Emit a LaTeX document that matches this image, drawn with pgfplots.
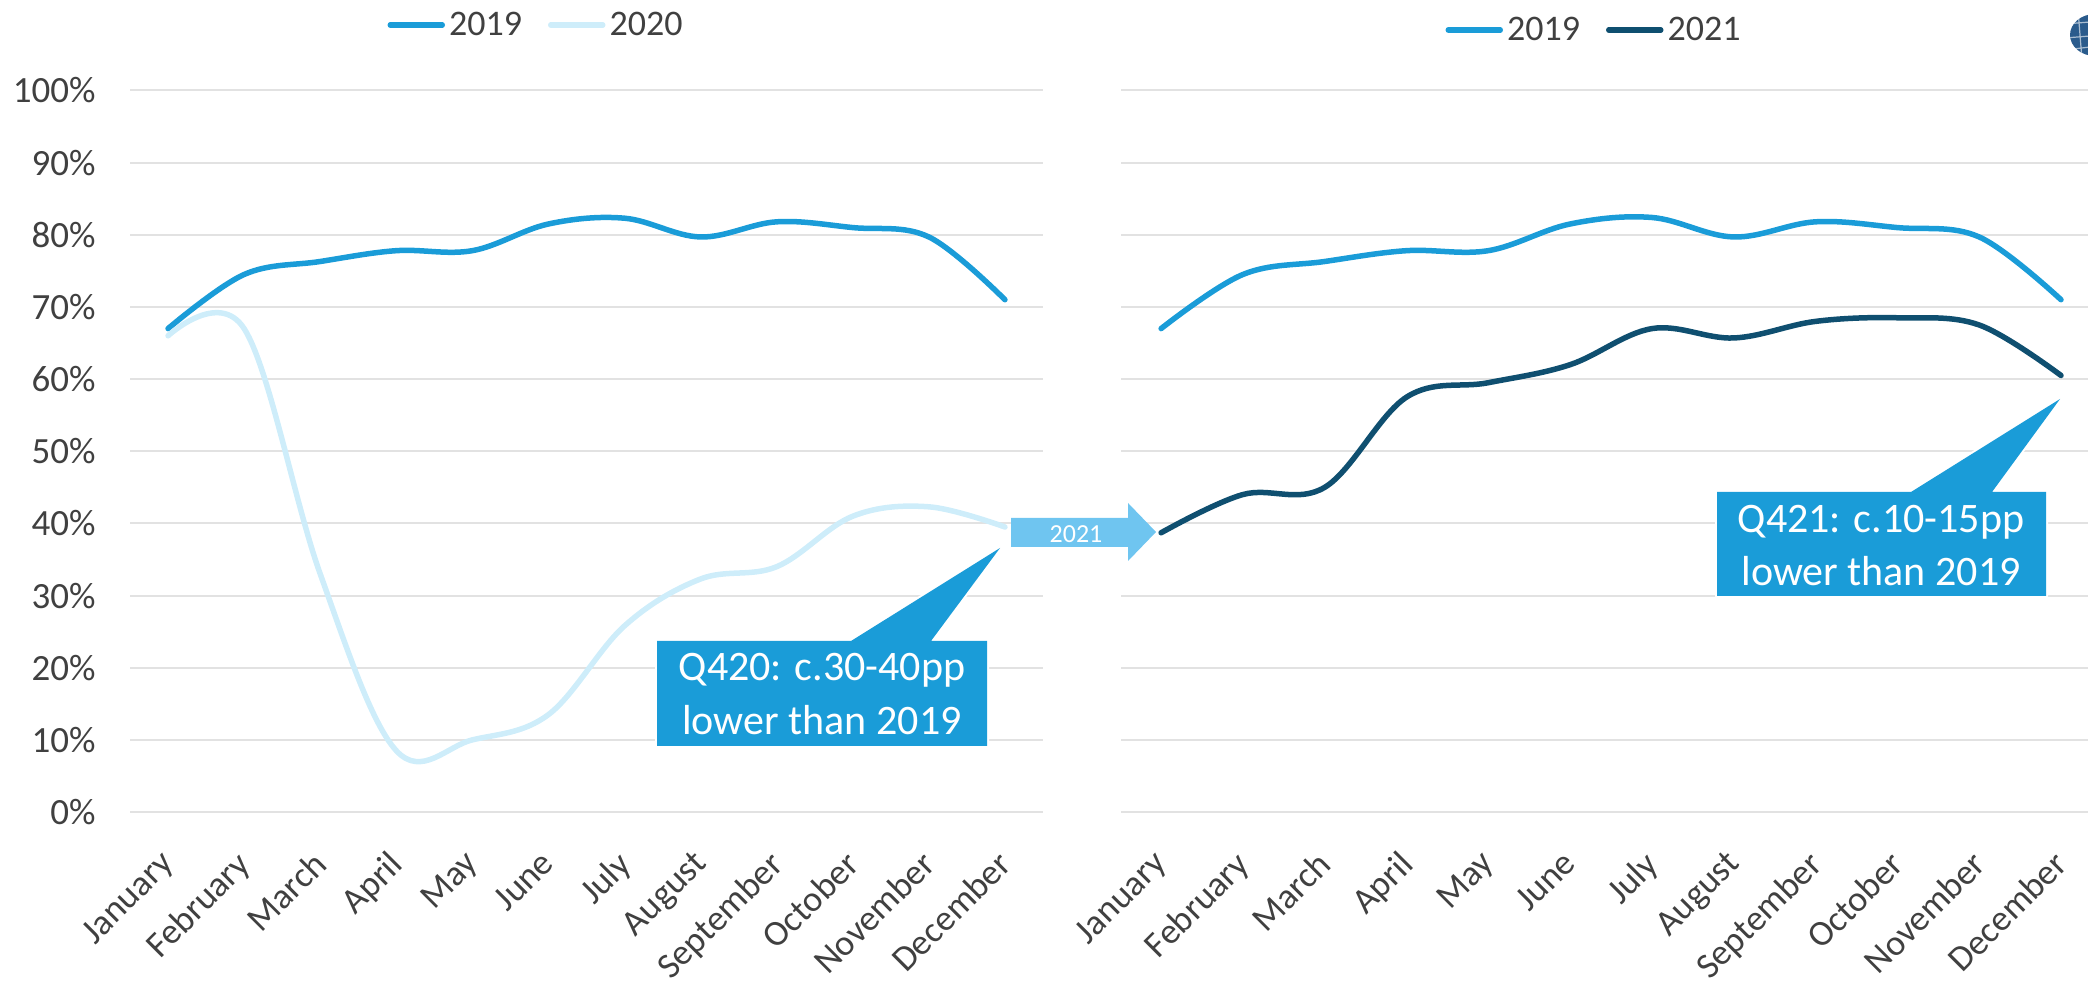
\documentclass[border=0pt]{standalone}
\usepackage{pgfplots}
\pgfplotsset{compat=1.18}
\usepackage{fontspec}
\setmainfont{Carlito}
\definecolor{cA}{HTML}{1A9CD8}
\definecolor{cB}{HTML}{CEEDFA}
\definecolor{cC}{HTML}{0F4F70}
\definecolor{cG}{HTML}{E2E2E2}
\definecolor{cT}{HTML}{404040}
\definecolor{cR}{HTML}{6FC5F0}
\definecolor{cL}{HTML}{2A5B8C}
\tikzset{calltext/.style={text=white,font=\fontsize{21}{22}\selectfont,inner sep=0pt}}
\pgfplotsset{
  base/.style={
    scale only axis, height=360.75pt, ymin=0, ymax=100,
    ytick={0,10,...,100},
    axis line style={draw=none}, major tick length=0pt,
    ymajorgrids, grid style={cG,line width=1pt},
    xtick={0,...,11},
    xticklabels={January,February,March,April,May,June,July,August,September,October,November,December},
    xticklabel style={rotate=45,anchor=north east,font=\fontsize{18}{20}\selectfont,text=cT,inner sep=0pt,yshift=-9.6pt,xshift=-16.2pt},
    yticklabel style={font=\fontsize{18.5}{20}\selectfont,text=cT,inner sep=0pt,xshift=-17pt},
    yticklabel={\pgfmathprintnumber[assume math mode=true]{\tick}\%},
    clip=false,
    legend columns=2,
    legend cell align=left,
    legend image code/.code={\draw[#1,line cap=round] (0pt,0pt) -- (26pt,0pt);},
    legend style={draw=none,fill=none,font=\fontsize{18}{20}\selectfont,text=cT,inner sep=0pt,anchor=center,
      /tikz/every even column/.style={column sep=11pt}},
  },
  ser/.style={line width=2.75pt,smooth,tension=0.6,no markers,line cap=round},
}
\begin{document}
\begin{tikzpicture}
\path[use as bounding box] (0,0) rectangle (1044pt,490pt);
\clip (0,0) rectangle (1044pt,490pt);
\begin{axis}[base,at={(65pt,84pt)},anchor=south west,width=456.5pt,xmin=-0.5,xmax=11.5,
  legend style={at={(203.5pt,393.5pt)}}]
\addplot[ser,color=cA] coordinates {(0,67)(1,74.5)(2,76.3)(3,77.8)(4,77.8)(5,81.5)(6,82.3)(7,79.7)(8,81.8)(9,81)(10,79.7)(11,71)};
\addplot[ser,color=cB] coordinates {(0,66)(1,67)(2,33)(3,8.5)(4,10)(5,13.5)(6,25.8)(7,32.3)(8,34)(9,41)(10,42.3)(11,39.5)};
\legend{2019,2020}
\end{axis}
\begin{axis}[base,at={(560.5pt,84pt)},anchor=south west,width=483.5pt,xmin=-0.49,xmax=11.33,
  yticklabels={},
  legend style={at={(237pt,391pt)}}]
\addplot[ser,color=cA] coordinates {(0,67)(1,74.5)(2,76.3)(3,77.8)(4,77.8)(5,81.5)(6,82.4)(7,79.7)(8,81.8)(9,81)(10,79.7)(11,71)};
\addplot[ser,color=cC] coordinates {(0,38.7)(1,44)(2,45)(3,57.5)(4,59.5)(5,62)(6,67)(7,65.7)(8,68)(9,68.5)(10,67.5)(11,60.5)};
\legend{2019,2021}
\end{axis}
\begin{scope}[x=0.5pt,y=-0.5pt,yshift=490pt]
\fill[cR] (1011,518)--(1128,518)--(1128,503)--(1156,532)--(1128,561)--(1128,547)--(1011,547)--cycle;
\node[text=white,font=\fontsize{13}{14}\selectfont,inner sep=0pt] at (1076,534) {2021};
\draw[white,line width=2pt,line join=round] (657,641)--(851,641)--(1000,548)--(931,641)--(987,641)--(987,746)--(657,746)--cycle;
\fill[cA] (657,641)--(851,641)--(1000,548)--(931,641)--(987,641)--(987,746)--(657,746)--cycle;
\draw[white,line width=2pt,line join=round] (1717,492)--(1911,492)--(2060,399)--(1992,492)--(2046,492)--(2046,596)--(1717,596)--cycle;
\fill[cA] (1717,492)--(1911,492)--(2060,399)--(1992,492)--(2046,492)--(2046,596)--(1717,596)--cycle;
\node[calltext] at (822,670) {Q420: c.30-40pp};
\node[calltext] at (822,720) {lower than 2019};
\node[calltext] at (1881,522) {Q421: c.10-15pp};
\node[calltext] at (1881,571) {lower than 2019};
% logo fragment
\begin{scope}
\clip (2095,35) ellipse [x radius=25,y radius=21];
\fill[cL] (2060,5) rectangle (2100,65);
\draw[white,opacity=.6,line width=.6pt] (2065,24)--(2090,22) (2065,38)--(2090,36) (2065,50)--(2090,47)
  (2078,10)--(2082,60) (2090,10)--(2092,60);
\end{scope}
\end{scope}
\end{tikzpicture}
\end{document}
